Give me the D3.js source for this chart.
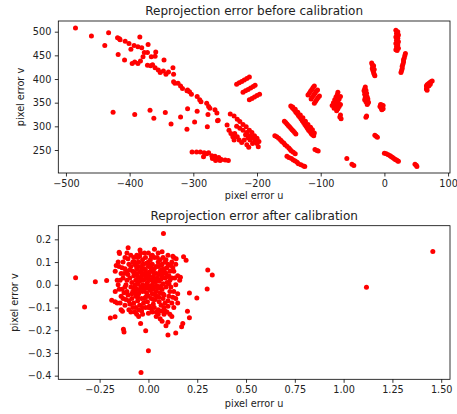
<!DOCTYPE html>
<html><head><meta charset="utf-8">
<script src="https://cdn.jsdelivr.net/npm/d3@7"></script>
<style>body{margin:0;background:#fff}svg{display:block}text{font-family:"DejaVu Sans",sans-serif;fill:#222}</style>
</head><body>
<script>
const titles = ["Reprojection error before calibration", "Reprojection error after calibration"];
const xLabel = "pixel error u", yLabel = "pixel error v";
const beforeXTicks = [-500,-400,-300,-200,-100,0,100];
const beforeYTicks = [250,300,350,400,450,500];
const afterXTicks = [-0.25,0,0.25,0.5,0.75,1.0,1.25,1.5];
const afterYTicks = [-0.4,-0.3,-0.2,-0.1,0,0.1,0.2];

const beforePoints = [
 [-485,508],[-460,491],[-433,498],[-439,471],[-419,487],[-415,483],[-416,485],[-407,480],[-401,475],[-384,489],[-393,471],[-387,468],[-381,466],[-371,473],[-398,463],[-418,452],[-408,440],[-377,456],[-372,456],[-359,457],[-366,447],[-360,448],[-379,447],[-383,438],[-396,433],[-387,433],[-372,429],[-367,428],[-360,424],[-355,419],[-346,440],[-347,417],[-343,410],[-339,415],[-332,424],[-331,410],[-331,394],[-329,391],[-324,391],[-320,385],[-317,380],[-310,375],[-309,377],[-306,373],[-303,368],[-294,363],[-290,356],[-288,352],[-279,349],[-276,342],[-274,338],[-266,335],[-263,328],[-261,313],[-392,436],[-364,430],[-352,414],
 [-426,330],[-392,325],[-368,334],[-362,317],[-344,329],[-335,305],[-320,320],[-309,337],[-310,294],[-298,309],[-294,332],[-278,299],[-277,325],[-262,312],
 [-302,246],[-295,246],[-289,246],[-283,244],[-279,242],[-276,244],[-271,238],[-266,237],[-260,234],[-256,230],[-250,229],[-245,228],[-284,236],[-265,228],[-262,232],[-270,232],[-258,228],
 [-242,326],[-236,322],[-231,315],[-227,310],[-222,304],[-217,299],[-212,292],[-208,287],[-204,280],[-200,275],[-197,268],
 [-247,303],[-244,292],[-241,285],[-238,278],[-236,271],
 [-235,285],[-231,278],[-228,271],[-224,266],
 [-227,296],[-222,292],[-216,287],[-211,280],[-206,275],
 [-220,271],[-216,261],[-213,256],[-200,264],[-198,257],[-211,271],[-207,264],[-232,300],[-218,282],[-214,276],[-203,270],
 [-232,389],[-228,392],[-224,395],[-220,398],[-216,401],[-212,404],
 [-222,372],[-218,375],[-214,378],[-210,381],[-206,384],[-203,387],
 [-212,356],[-208,359],[-204,362],[-200,365],[-196,368],
 [-120,366],[-118,370],[-116,374],[-114,378],[-112,382],[-110,385],
 [-115,358],[-113,362],[-111,366],[-109,370],[-107,374],[-105,377],
 [-110,349],[-108,353],[-106,357],[-104,361],[-102,364],
 [-82,344],[-80,350],[-78,356],[-76,362],[-74,367],[-73,372],
 [-79,338],[-77,343],[-75,348],[-73,353],[-71,358],[-69,363],
 [-75,333],[-73,337],[-71,342],[-69,346],[-70,320],[-68,316],[-69,324],
 [-147,343],[-145,340],[-143,337],[-141,334],[-139,330],[-137,327],[-135,323],[-133,320],[-131,316],[-129,312],[-127,308],[-125,304],[-123,300],[-121,296],[-119,292],[-117,289],[-115,285],[-113,282],[-111,280],
 [-144,341],[-140,336],[-136,330],[-132,324],[-128,318],[-124,311],[-120,304],[-116,298],[-113,293],[-110,286],
 [-157,311],[-155,308],[-153,305],[-151,302],[-149,299],[-147,296],[-145,293],[-143,290],[-141,287],[-139,284],
 [-172,280],[-169,278],[-166,275],[-163,271],[-161,268],[-158,265],[-156,261],[-153,258],[-150,254],[-148,251],[-146,248],[-143,245],[-140,242],
 [-153,237],[-150,234],[-146,232],[-143,229],[-140,227],[-137,224],[-135,221],[-131,219],[-127,216],[-125,215],
 [-109,251],[-106,249],[-104,248],[-59,232],[-48,217],[-51,220],
 [-30,383],[-31,379],[-29,376],[-30,372],[-31,368],[-29,365],[-30,361],[-28,358],[-27,355],[-29,352],[-26,349],[-27,346],[-25,351],[-27,362],[-28,370],[-32,375],[-26,358],[-31,356],
 [-28,322],[-29,319],
 [-20,434],[-19,430],[-18,426],[-19,422],[-18,418],[-17,414],[-16,410],[-15,407],[-16,420],[-17,428],
 [-6,346],[-4,345],[-2,344],[-7,342],[-3,340],[-5,338],[-2,337],[-4,335],
 [-15,281],[-13,279],[-11,277],
 [0,243],[3,242],[6,240],[9,238],[11,236],[13,234],[15,232],[17,230],[19,229],[21,227],[22,226],
 [48,220],[50,218],[51,215],
 [18,503],[21,500],[19,496],[22,493],[18,489],[21,486],[19,482],[22,479],[18,475],[21,472],[19,468],[22,465],[18,462],[20,460],
 [33,454],[32,449],[31,444],[30,440],[30,436],[29,431],[28,427],[28,422],[27,418],[26,414],
 [75,396],[73,394],[71,392],[69,390],[67,388],[66,385],[67,382],[66,379],[67,376],[70,386],[72,389]
];

const afterPoints = [
 [-0.09,0.08],[-0.08,0.06],[-0.07,0.09],[-0.06,0.05],[-0.05,0.08],[-0.04,0.06],[-0.03,0.09],[-0.02,0.07],[-0.01,0.05],[0.00,0.08],[0.01,0.06],[0.02,0.09],[0.03,0.07],[0.04,0.05],[0.05,0.08],[0.06,0.06],[0.07,0.04],[0.08,0.07],[0.09,0.05],
 [-0.095,0.03],[-0.085,0.01],[-0.075,0.04],[-0.065,0.02],[-0.055,0.035],[-0.045,0.015],[-0.035,0.04],[-0.025,0.02],[-0.015,0.03],[-0.005,0.01],[0.005,0.04],[0.015,0.02],[0.025,0.035],[0.035,0.01],[0.045,0.03],[0.055,0.015],[0.065,0.025],[0.075,0.005],[0.085,0.03],[0.095,0.01],
 [-0.09,-0.01],[-0.08,-0.03],[-0.07,-0.005],[-0.06,-0.02],[-0.05,-0.04],[-0.04,-0.01],[-0.03,-0.03],[-0.02,-0.015],[-0.01,-0.035],[0.0,-0.005],[0.01,-0.025],[0.02,-0.04],[0.03,-0.01],[0.04,-0.03],[0.05,-0.015],[0.06,-0.035],[0.07,-0.02],[0.08,-0.045],[0.09,-0.01],
 [-0.085,-0.06],[-0.075,-0.08],[-0.065,-0.05],[-0.055,-0.07],[-0.045,-0.09],[-0.035,-0.06],[-0.025,-0.08],[-0.015,-0.055],[-0.005,-0.075],[0.005,-0.095],[0.015,-0.06],[0.025,-0.085],[0.035,-0.065],[0.045,-0.05],[0.055,-0.075],[0.065,-0.09],[0.075,-0.06],[0.085,-0.08],
 [-0.03,0.0],[-0.02,0.045],[-0.01,0.0],[0.0,0.025],[0.01,-0.01],[0.02,0.0],[0.0,-0.05],[-0.04,0.025],[0.03,0.05],[-0.06,0.07],[0.04,0.08],[-0.02,-0.06],[0.02,0.06],[0.0,0.1],[-0.05,0.1],[0.05,0.1],[-0.01,0.095],[0.01,0.11],[-0.03,0.11],[0.03,0.12],[-0.07,0.1],[0.07,0.09],[0.06,0.11],[-0.08,0.1],
 [0.0,-0.1],[-0.03,-0.1],[0.03,-0.1],[0.05,-0.11],[-0.05,-0.11],[0.08,-0.1],[-0.08,-0.1],[0.1,-0.095],[-0.1,-0.07],[0.1,-0.07],[0.11,-0.03],[-0.11,-0.03],[0.11,0.02],[-0.11,0.02],[0.11,0.06],[-0.11,0.06],[0.1,0.09],[-0.1,0.09],
 [-0.15,0.08],[-0.14,0.05],[-0.16,0.02],[-0.15,-0.02],[-0.14,-0.05],[-0.16,-0.08],[-0.13,0.1],[-0.12,0.07],[-0.13,0.03],[-0.12,-0.01],[-0.13,-0.06],[-0.12,-0.09],[-0.14,-0.11],[-0.12,0.12],[-0.17,0.06],[-0.17,-0.03],[-0.155,0.0],
 [0.12,0.1],[0.13,0.06],[0.12,0.03],[0.14,0.0],[0.13,-0.03],[0.14,-0.06],[0.12,-0.08],[0.15,-0.04],[0.15,0.04],[0.14,0.09],[0.13,-0.1],[0.11,-0.13],[0.15,-0.08],[0.16,0.02],[0.125,0.125],[0.1,0.13],
 [-0.09,0.13],[-0.06,0.13],[-0.04,0.14],[-0.02,0.14],[0.0,0.14],[0.02,0.13],[0.05,0.14],[0.07,0.145],[-0.11,0.14],[0.09,0.11],
 [-0.09,-0.12],[-0.06,-0.13],[-0.03,-0.13],[0.02,-0.12],[0.06,-0.15],[0.04,-0.14],[0.08,-0.13],[-0.04,-0.17],[0.07,-0.16],[0.09,-0.18],[0.12,-0.14],[-0.1,-0.11],[0.1,-0.165],
 [-0.045,0.055],[0.015,0.075],[-0.025,-0.025],[0.045,-0.005],[-0.065,-0.035],[0.035,-0.045],[-0.015,0.065],[0.055,0.045],[-0.055,0.005],[0.065,0.065],[-0.035,0.075],[0.025,-0.065],[-0.075,0.055],[0.085,0.055],[-0.005,-0.045],[0.005,0.055],
 [-0.105,0.045],[-0.115,0.0],[-0.105,-0.045],[-0.095,-0.085],[-0.125,0.05],[-0.135,-0.02],[-0.145,0.02],[-0.145,-0.08],[-0.135,0.075],[-0.155,0.1],[-0.165,0.085],[-0.125,-0.035],[-0.115,-0.065],[-0.105,0.115],[-0.075,0.12],[-0.055,0.12],
 [0.105,0.04],[0.115,-0.01],[0.105,-0.05],[0.095,-0.12],[0.125,0.075],[0.135,0.03],[0.125,-0.055],[0.115,0.085],[0.105,0.005],[0.095,0.075],[0.085,0.1],[0.075,0.12],[0.045,0.12],[0.015,0.125],[-0.015,0.12],[-0.045,0.125],
 [-0.065,-0.1],[-0.035,-0.115],[-0.015,-0.1],[0.015,-0.105],[0.04,-0.12],[0.065,-0.115],[-0.07,-0.12],[-0.05,-0.14],[0.0,-0.125],[0.05,-0.13],[0.085,-0.115],[-0.085,-0.04],[0.075,-0.04],[-0.045,-0.025],[0.025,0.015],[-0.01,0.03],
 [-0.095,0.065],[0.095,0.035],[-0.065,0.085],[0.065,0.085],[-0.035,0.055],[0.035,0.025],[-0.075,-0.015],[0.075,0.055],[-0.005,-0.015],[0.055,-0.055],[-0.055,-0.055],[0.005,0.085],[-0.025,0.09],[0.025,-0.02],[-0.065,0.0],[0.065,-0.005],
 [1.457,0.146],[1.117,-0.011],[-0.373,0.031],[-0.327,-0.098],[-0.272,0.013],[-0.214,0.019],[0.077,0.226],[0.0,-0.29],[-0.038,-0.386],
 [0.304,0.065],[0.327,0.043],[0.301,-0.019],[0.248,-0.058],[0.21,-0.036],[0.2,-0.116],[0.21,-0.145],[0.176,-0.17],[0.17,-0.185],[0.14,-0.212],[0.1,-0.221],[-0.014,-0.202],
 [-0.128,-0.196],[-0.125,-0.208],[-0.195,-0.146],[-0.171,-0.141],[-0.188,-0.068],[-0.171,-0.075],[-0.133,-0.117],[-0.104,0.163],[-0.15,0.143],[-0.148,0.138],
 [0.13,0.12],[0.142,0.114],[0.18,0.123],[0.193,0.108],[0.164,0.033],[0.031,0.156],[-0.043,0.153]
];

const W = 457, H = 414;
const svg = d3.select("body").append("svg").attr("width", W).attr("height", H);

const panels = [
 {pts: beforePoints, xd: [-512, 103], yd: [201.4, 522.6], xt: beforeXTicks, yt: beforeYTicks,
  xf: d3.format("d"), yf: d3.format("d"), top: 21, bottom: 173, title: titles[0], titleY: 14.5, xlabY: 199, ylabX: 24},
 {pts: afterPoints, xd: [-0.4617, 1.545], yd: [-0.416, 0.26], xt: afterXTicks, yt: afterYTicks,
  xf: d3.format(".2f"), yf: d3.format(".1f"), top: 225.7, bottom: 379.3, title: titles[1], titleY: 220, xlabY: 407, ylabX: 18}
];
const left = 58.3, right = 450;

panels.forEach(p => {
  const x = d3.scaleLinear().domain(p.xd).range([left, right]);
  const y = d3.scaleLinear().domain(p.yd).range([p.bottom, p.top]);
  const g = svg.append("g");
  g.append("g").selectAll("circle").data(p.pts).join("circle")
    .attr("cx", d => x(d[0])).attr("cy", d => y(d[1])).attr("r", 2.5).attr("fill", "#ff0000");
  const xa = g.append("g").attr("transform", `translate(0,${p.bottom})`)
    .call(d3.axisBottom(x).tickValues(p.xt).tickFormat(p.xf).tickSize(3.5).tickPadding(3.5));
  const ya = g.append("g").attr("transform", `translate(${left},0)`)
    .call(d3.axisLeft(y).tickValues(p.yt).tickFormat(p.yf).tickSize(3.5).tickPadding(3.5));
  [xa, ya].forEach(a => {
    a.select(".domain").remove();
    a.selectAll("line").attr("stroke", "#000").attr("stroke-width", 0.8);
    a.selectAll("text").attr("font-size", 9.7).attr("fill", "#222").style("font-family", "DejaVu Sans");
  });
  g.append("rect").attr("x", left).attr("y", p.top).attr("width", right - left).attr("height", p.bottom - p.top)
    .attr("fill", "none").attr("stroke", "#000").attr("stroke-width", 0.8);
  g.append("text").attr("x", (left + right) / 2).attr("y", p.titleY).attr("text-anchor", "middle")
    .attr("font-size", 12).text(p.title);
  g.append("text").attr("x", (left + right) / 2).attr("y", p.xlabY).attr("text-anchor", "middle")
    .attr("font-size", 9.7).text(xLabel);
  g.append("text").attr("transform", `translate(${p.ylabX},${(p.top + p.bottom) / 2}) rotate(-90)`)
    .attr("text-anchor", "middle").attr("font-size", 9.7).text(yLabel);
});
</script>
</body></html>
